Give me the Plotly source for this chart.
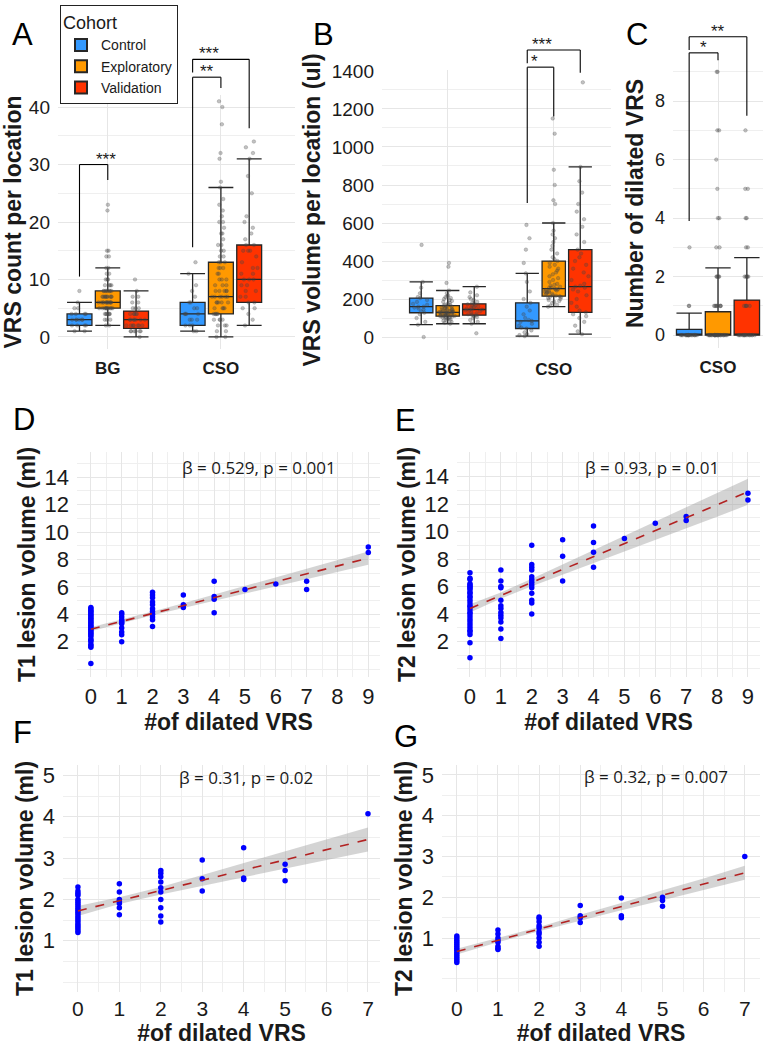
import plotly.graph_objects as go

W, H = 765, 1050

# ---------------- data ----------------
cohorts = ["Control", "Exploratory", "Validation"]
cohort_colors = ["#3399FF", "#FF9900", "#FF3300"]
locations = ["BG", "CSO"]
cso_only = ["CSO"]

# A: VRS count per location  (box statistics, [BG, CSO])
count_q1 = {"Control": [2, 2], "Exploratory": [5, 4], "Validation": [1.5, 6]}
count_median = {"Control": [3, 4], "Exploratory": [6, 7], "Validation": [3, 10]}
count_q3 = {"Control": [4, 6], "Exploratory": [8, 13], "Validation": [4.5, 16]}
count_lower = {"Control": [1, 1], "Exploratory": [2, 0], "Validation": [0, 2]}
count_upper = {"Control": [6, 11], "Exploratory": [12, 26], "Validation": [8, 31]}
count_points_bg = {
    "Control": [1, 1, 2, 2, 2, 2, 3, 3, 3, 3, 3, 3, 4, 4, 4, 4, 5, 5, 6, 8],
    "Exploratory": [2, 2, 3, 3, 3, 4, 4, 4, 4, 4, 4, 4, 5, 5, 5, 5, 5, 5, 5, 5, 5, 5, 5,
                    6, 6, 6, 6, 6, 6, 6, 6, 6, 6, 6, 6, 7, 7, 7, 7, 7, 7, 7, 7, 7, 7,
                    8, 8, 8, 8, 8, 8, 8, 8, 9, 9, 9, 9, 10, 10, 10, 11, 11, 12, 12,
                    14, 14, 15, 15, 22, 23],
    "Validation": [0, 1, 1, 1, 1, 1, 1, 2, 2, 2, 2, 2, 2, 2, 3, 3, 3, 3, 3, 3, 3, 4, 4,
                   4, 4, 4, 5, 5, 5, 6, 6, 7, 7, 8, 10],
}
count_points_cso = {
    "Control": [1, 1, 2, 2, 2, 3, 3, 3, 4, 4, 4, 4, 5, 5, 6, 6, 7, 8, 9, 11, 13],
    "Exploratory": [0, 0, 1, 1, 2, 2, 2, 3, 3, 3, 3, 4, 4, 4, 4, 4, 5, 5, 5, 5, 6, 6, 6,
                    6, 6, 7, 7, 7, 7, 7, 7, 8, 8, 8, 8, 8, 9, 9, 9, 10, 10, 10, 11, 11,
                    12, 12, 12, 13, 13, 13, 14, 14, 15, 15, 16, 16, 17, 18, 18, 19, 20,
                    20, 21, 22, 23, 24, 26, 27, 31, 32, 37, 40, 41],
    "Validation": [2, 3, 4, 5, 5, 6, 6, 7, 7, 8, 8, 9, 9, 10, 10, 10, 11, 11, 12, 12, 13,
                   14, 15, 15, 15, 16, 16, 17, 18, 19, 20, 21, 25, 28, 31, 32, 33, 34],
}
# significance brackets: (location, from, to, bar level, left end, right end, label)
count_sig = [("BG", "Control", "Exploratory", 30, 10.5, 27.3, "***"),
             ("CSO", "Control", "Exploratory", 45.2, 15.6, 43.3, "**"),
             ("CSO", "Control", "Validation", 48.3, 46, 36.3, "***")]

# B: VRS volume per location (ul)
vol_q1 = {"Control": [128, 45], "Exploratory": [110, 215], "Validation": [115, 130]}
vol_median = {"Control": [160, 85], "Exploratory": [130, 255], "Validation": [145, 265]}
vol_q3 = {"Control": [205, 180], "Exploratory": [165, 400], "Validation": [175, 460]}
vol_lower = {"Control": [65, 5], "Exploratory": [70, 160], "Validation": [70, 15]}
vol_upper = {"Control": [290, 335], "Exploratory": [245, 600], "Validation": [265, 895]}
vol_points_bg = {
    "Control": [0, 65, 80, 100, 120, 128, 135, 145, 150, 155, 160, 160, 170, 175, 185,
                195, 205, 210, 230, 260, 290, 485],
    "Exploratory": [70, 75, 80, 85, 90, 92, 95, 98, 100, 102, 105, 106, 108, 110, 110,
                    112, 114, 115, 116, 118, 120, 121, 122, 124, 125, 126, 128, 129, 130,
                    130, 131, 132, 134, 135, 136, 138, 140, 141, 143, 145, 147, 150, 152,
                    155, 158, 160, 162, 165, 168, 170, 175, 180, 185, 190, 195, 200, 205,
                    210, 215, 220, 230, 245, 285, 370, 390],
    "Validation": [20, 70, 80, 90, 100, 105, 110, 115, 118, 120, 125, 130, 135, 140, 142,
                   145, 148, 150, 155, 158, 160, 165, 170, 172, 175, 180, 185, 195, 200,
                   210, 220, 235, 265],
}
vol_points_cso = {
    "Control": [5, 10, 15, 25, 35, 45, 50, 60, 70, 80, 85, 90, 100, 120, 140, 160, 180,
                200, 240, 290, 335, 390, 460, 520, 590],
    "Exploratory": [160, 165, 170, 180, 185, 190, 195, 200, 205, 210, 212, 215, 218, 220,
                    225, 228, 230, 235, 238, 240, 242, 245, 248, 250, 252, 255, 258, 260,
                    265, 270, 275, 280, 290, 300, 310, 320, 330, 340, 350, 360, 370, 380,
                    390, 400, 410, 420, 440, 460, 480, 500, 520, 540, 560, 600, 700, 720,
                    800, 880, 1070, 1150],
    "Validation": [15, 30, 60, 80, 100, 110, 120, 130, 140, 160, 180, 200, 220, 240, 250,
                   260, 265, 270, 280, 300, 320, 340, 360, 380, 400, 420, 440, 460, 500,
                   540, 580, 620, 660, 700, 760, 820, 895, 1340],
}
vol_sig = [("CSO", "Control", "Exploratory", 1420, 705, 1160, "*"),
           ("CSO", "Control", "Validation", 1510, 1440, 1390, "***")]

# C: number of dilated VRS (CSO)
dil_q1 = {"Control": [0], "Exploratory": [0], "Validation": [0]}
dil_median = {"Control": [0], "Exploratory": [0], "Validation": [0]}
dil_q3 = {"Control": [0.2], "Exploratory": [0.8], "Validation": [1.2]}
dil_lower = {"Control": [0], "Exploratory": [0], "Validation": [0]}
dil_upper = {"Control": [0.75], "Exploratory": [2.3], "Validation": [2.65]}
dil_points_cso = {
    "Control": [0, 0, 0, 0, 0, 0, 0, 0, 0, 0, 0, 0, 0, 0, 0, 0, 0, 0, 1, 1, 3],
    "Exploratory": [0, 0, 0, 0, 0, 0, 0, 0, 0, 0, 0, 0, 0, 0, 0, 0, 0, 0, 0, 0, 0, 0,
                    0, 0, 0, 1, 1, 1, 1, 1, 1, 1, 1, 2, 2, 2, 2, 2, 3, 3, 4, 4, 5, 6,
                    7, 7, 9, 9],
    "Validation": [0, 0, 0, 0, 0, 0, 0, 0, 0, 0, 0, 0, 0, 0, 0, 1, 1, 1, 1, 1, 2, 2, 2,
                   2, 2, 3, 3, 4, 4, 5, 5, 7],
}
dil_sig = [("CSO", "Control", "Exploratory", 9.65, 3.9, 9.4, "*"),
           ("CSO", "Control", "Validation", 10.2, 9.75, 7.5, "**")]

# D-G: lesion volume vs number of dilated VRS  {n dilated: [volumes]}
d_points = {0: [0.4, 1.6, 1.7, 1.8, 2.0, 2.1, 2.2, 2.4, 2.5, 2.6, 2.7, 2.8, 2.9, 3.0,
                3.1, 3.2, 3.3, 3.4, 3.5, 3.6, 3.7, 3.8, 3.9, 4.0, 4.1, 4.2, 4.3, 4.4, 4.5],
            1: [2.0, 2.5, 2.7, 3.0, 3.3, 3.4, 3.5, 3.6, 3.8, 4.0, 4.1],
            2: [3.1, 3.6, 3.8, 4.0, 4.2, 4.4, 4.7, 4.9, 5.2, 5.4, 5.6],
            3: [4.5, 4.7, 5.4], 4: [4.1, 5.1, 5.3, 6.4], 5: [5.8], 6: [6.2],
            7: [5.8, 6.4], 9: [8.5, 8.9]}
e_points = {0: [0.8, 1.9, 2.5, 2.7, 2.8, 3.0, 3.2, 3.4, 3.6, 3.8, 4.0, 4.1, 4.3, 4.5,
                4.6, 4.8, 5.0, 5.2, 5.3, 5.5, 5.6, 5.8, 5.9, 6.0, 6.1, 6.2, 6.5, 6.6, 7.0],
            1: [2.2, 2.9, 3.4, 3.7, 3.9, 4.1, 4.4, 4.6, 5.0, 5.9, 6.0, 6.4, 7.2],
            2: [4.0, 4.8, 5.0, 5.5, 5.9, 6.1, 6.3, 6.5, 6.7, 7.2, 7.4, 7.6, 9.0],
            3: [6.4, 8.2, 9.4], 4: [7.4, 8.5, 9.2, 10.4], 5: [9.5], 6: [10.6],
            7: [10.8, 11.1], 9: [12.3, 12.8]}
f_points = {0: [1.2, 1.25, 1.3, 1.35, 1.4, 1.45, 1.5, 1.55, 1.6, 1.65, 1.7, 1.75, 1.8,
                1.85, 1.9, 1.95, 2.0, 2.1, 2.15, 2.2, 2.3],
            1: [1.63, 1.8, 1.9, 1.95, 2.0, 2.18, 2.38],
            2: [1.45, 1.6, 1.8, 2.0, 2.18, 2.28, 2.42, 2.55, 2.63, 2.7],
            3: [2.2, 2.5, 2.95], 4: [2.48, 2.52, 3.25], 5: [2.45, 2.7, 2.85], 7: [4.07]}
g_points = {0: [0.4, 0.45, 0.5, 0.55, 0.6, 0.65, 0.7, 0.75, 0.8, 0.85, 0.9, 0.95, 1.0,
                1.05],
            1: [0.72, 0.75, 0.8, 0.9, 0.95, 1.0, 1.1, 1.2],
            2: [0.8, 0.9, 1.0, 1.1, 1.15, 1.25, 1.3, 1.4, 1.48, 1.52],
            3: [1.38, 1.5, 1.55, 1.8], 4: [1.5, 1.55, 1.98], 5: [1.78, 1.92, 2.0], 7: [3.0]}

# fitted lines and 95% bands
d_fit_x = [0, 9]
d_fit_y = [2.90, 8.10]
d_band_x = [0, 1, 2, 3, 4, 5, 6, 7, 8, 9]
d_band_lo = [2.75, 3.36, 3.92, 4.45, 4.98, 5.51, 6.04, 6.57, 7.09, 7.62]
d_band_hi = [3.05, 3.60, 4.20, 4.81, 5.44, 6.07, 6.70, 7.33, 7.95, 8.58]
e_fit_x = [0, 9]
e_fit_y = [4.40, 12.90]
e_band_x = [0, 1, 2, 3, 4, 5, 6, 7, 8, 9]
e_band_lo = [4.10, 5.12, 6.01, 6.85, 7.68, 8.52, 9.37, 10.21, 11.08, 11.95]
e_band_hi = [4.70, 5.56, 6.57, 7.61, 8.68, 9.72, 10.77, 11.81, 12.84, 13.85]
f_fit_x = [0, 7]
f_fit_y = [1.72, 3.45]
f_band_x = [0, 1, 2, 3, 4, 5, 6, 7]
f_band_lo = [1.60, 1.89, 2.12, 2.33, 2.54, 2.75, 2.95, 3.16]
f_band_hi = [1.84, 2.05, 2.30, 2.59, 2.88, 3.17, 3.45, 3.74]
g_fit_x = [0, 7]
g_fit_y = [0.67, 2.60]
g_band_x = [0, 1, 2, 3, 4, 5, 6, 7]
g_band_lo = [0.60, 0.90, 1.17, 1.43, 1.68, 1.93, 2.18, 2.43]
g_band_hi = [0.74, 1.00, 1.27, 1.57, 1.86, 2.17, 2.46, 2.77]

stat_labels = ["β = 0.529, p = 0.001", "β = 0.93, p = 0.01",
               "β = 0.31, p = 0.02", "β = 0.32, p = 0.007"]

# ---------------- styling / layout ----------------
FONT = "Liberation Sans, Arial, sans-serif"
TXT = "#1a1a1a"
GRID = "#E6E6E6"
MINOR = "#EFEFEF"
BOXGAP = 0.25
BOXGROUPGAP = 0.12
slot = (1 - BOXGAP) / 3

fig = go.Figure()


def xd(p0, p1):
    return [p0 / W, p1 / W]


def yd(top, bottom):
    return [1 - bottom / H, 1 - top / H]


def add_box_panel(k, cats, q1, med, q3, lo, hi, pts_by_cat, legend):
    xa, ya = ("x" + k), ("y" + k)
    for i, c in enumerate(cohorts):
        fig.add_trace(go.Box(
            x=cats, q1=q1[c], median=med[c], q3=q3[c], lowerfence=lo[c], upperfence=hi[c],
            orientation="v", name=c, legendgroup=c, showlegend=legend,
            offsetgroup=c, alignmentgroup="g" + k, boxpoints=False, whiskerwidth=1,
            fillcolor=cohort_colors[i], line=dict(color="#262626", width=1.3),
            xaxis=xa, yaxis=ya, hoverinfo="skip"))
        xs, ys = [], []
        for cat, pts in zip(cats, pts_by_cat):
            xs += [cat] * len(pts[c])
            ys += pts[c]
        fig.add_trace(go.Box(
            x=xs, y=ys, orientation="v", name=c, showlegend=False,
            offsetgroup=c, alignmentgroup="g" + k, boxpoints="all", jitter=0.8,
            pointpos=0, fillcolor="rgba(0,0,0,0)",
            line=dict(color="rgba(0,0,0,0)", width=0),
            marker=dict(color="rgba(70,70,70,0.33)", size=3.6,
                        line=dict(color="rgba(70,70,70,0.45)", width=0.5)),
            xaxis=xa, yaxis=ya, hoverinfo="skip"))


def add_sig(k, cats, xr, yr, sig):
    xref, yref = "x" + k + " domain", "y" + k + " domain"
    fx = lambda v: (v - xr[0]) / (xr[1] - xr[0])
    fy = lambda v: (v - yr[0]) / (yr[1] - yr[0])
    for cat, g1, g2, ybar, yl, yrt, label in sig:
        ci = cats.index(cat)
        a = fx(ci + (cohorts.index(g1) - 1) * slot)
        b = fx(ci + (cohorts.index(g2) - 1) * slot)
        ln = dict(color="black", width=1.1)
        fig.add_shape(type="line", xref=xref, yref=yref, x0=a, x1=a, y0=fy(yl), y1=fy(ybar), line=ln)
        fig.add_shape(type="line", xref=xref, yref=yref, x0=a, x1=b, y0=fy(ybar), y1=fy(ybar), line=ln)
        fig.add_shape(type="line", xref=xref, yref=yref, x0=b, x1=b, y0=fy(ybar), y1=fy(yrt), line=ln)
        fig.add_annotation(xref=xref, yref=yref, x=(a + b) / 2, y=fy(ybar), text=label,
                           showarrow=False, yanchor="bottom", yshift=-6,
                           font=dict(family=FONT, size=17, color=TXT))


def add_scatter_panel(k, pts, fx_, fy_, bx, blo, bhi):
    xa, ya = ("x" + k), ("y" + k)
    fig.add_trace(go.Scatter(x=bx, y=blo, mode="lines", line=dict(width=0),
                             showlegend=False, xaxis=xa, yaxis=ya, hoverinfo="skip"))
    fig.add_trace(go.Scatter(x=bx, y=bhi, mode="lines", line=dict(width=0), fill="tonexty",
                             fillcolor="rgba(160,160,160,0.45)", showlegend=False,
                             xaxis=xa, yaxis=ya, hoverinfo="skip"))
    xs, ys = [], []
    for n, vals in pts.items():
        xs += [n] * len(vals)
        ys += vals
    fig.add_trace(go.Scatter(x=xs, y=ys, mode="markers",
                             marker=dict(color="#0000FF", size=5.5), showlegend=False,
                             xaxis=xa, yaxis=ya, hoverinfo="skip"))
    fig.add_trace(go.Scatter(x=fx_, y=fy_, mode="lines",
                             line=dict(color="#B22222", width=1.6, dash="dash"),
                             showlegend=False, xaxis=xa, yaxis=ya, hoverinfo="skip"))


# panel ranges
rA_x, rA_y = [-0.44, 1.655], [-2.1, 42.1]
rB_x, rB_y = [-0.62, 1.54], [-68, 1405]
rC_x, rC_y = [-0.39, 0.39], [-0.44, 9.44]

add_box_panel("", locations, count_q1, count_median, count_q3, count_lower, count_upper,
              [count_points_bg, count_points_cso], True)
add_box_panel("2", locations, vol_q1, vol_median, vol_q3, vol_lower, vol_upper,
              [vol_points_bg, vol_points_cso], False)
add_box_panel("3", cso_only, dil_q1, dil_median, dil_q3, dil_lower, dil_upper,
              [dil_points_cso], False)

add_sig("", locations, rA_x, rA_y, count_sig)
add_sig("2", locations, rB_x, rB_y, vol_sig)
add_sig("3", cso_only, rC_x, rC_y, dil_sig)

add_scatter_panel("4", d_points, d_fit_x, d_fit_y, d_band_x, d_band_lo, d_band_hi)
add_scatter_panel("5", e_points, e_fit_x, e_fit_y, e_band_x, e_band_lo, e_band_hi)
add_scatter_panel("6", f_points, f_fit_x, f_fit_y, f_band_x, f_band_lo, f_band_hi)
add_scatter_panel("7", g_points, g_fit_x, g_fit_y, g_band_x, g_band_lo, g_band_hi)


def cat_xaxis(dom, rng, anchor):
    return dict(domain=dom, range=rng, type="category", anchor=anchor,
                showgrid=True, gridcolor=GRID, gridwidth=1, zeroline=False, showline=False,
                ticks="", ticklabelstandoff=7, automargin=False,
                tickfont=dict(family=FONT, size=17, color=TXT, weight="bold"))


def num_yaxis(dom, rng, anchor, title, tickvals, minor_dtick, size=19, standoff=4):
    return dict(domain=dom, range=rng, anchor=anchor, tickmode="array", tickvals=tickvals,
                showgrid=True, gridcolor=GRID, gridwidth=1, zeroline=False, showline=False,
                ticks="", ticklabelstandoff=7, automargin=False,
                minor=dict(tickmode="linear", tick0=0, dtick=minor_dtick, showgrid=True,
                           gridcolor=MINOR, gridwidth=0.8),
                tickfont=dict(family=FONT, size=size, color=TXT),
                title=dict(text=title, standoff=standoff,
                           font=dict(family=FONT, size=23, color=TXT, weight="bold")))


def scat_xaxis(dom, rng, anchor, tickvals, lab_off=4, tick_size=22, title_size=23):
    return dict(domain=dom, range=rng, anchor=anchor, tickmode="array", tickvals=tickvals,
                showgrid=True, gridcolor=GRID, gridwidth=1, zeroline=False, showline=False,
                ticks="", ticklabelstandoff=lab_off, automargin=False,
                minor=dict(tickmode="linear", tick0=0, dtick=0.5, showgrid=True,
                           gridcolor=MINOR, gridwidth=0.8),
                tickfont=dict(family=FONT, size=tick_size, color=TXT),
                title=dict(text="#of dilated VRS", standoff=0,
                           font=dict(family=FONT, size=title_size, color=TXT, weight="bold")))


domA = (xd(58, 295), yd(95, 349))
domB = (xd(382, 611), yd(70, 350))
domC = (xd(673, 763), yd(59, 348))
domD = (xd(77, 380), yd(452, 677))
domE = (xd(457, 760), yd(452, 677))
domF = (xd(63, 380), yd(765, 992))
domG = (xd(442, 760), yd(765, 992))

ticks_09 = [0, 1, 2, 3, 4, 5, 6, 7, 8, 9]
ticks_07 = [0, 1, 2, 3, 4, 5, 6, 7]

fig.update_layout(
    width=W, height=H, autosize=False,
    margin=dict(l=0, r=0, t=0, b=0),
    paper_bgcolor="white", plot_bgcolor="white",
    boxmode="group", boxgap=BOXGAP, boxgroupgap=BOXGROUPGAP,
    font=dict(family=FONT, color=TXT),
    xaxis=cat_xaxis(domA[0], rA_x, "y"),
    yaxis=num_yaxis(domA[1], rA_y, "x", "VRS count per location", [0, 10, 20, 30, 40], 5),
    xaxis2=cat_xaxis(domB[0], rB_x, "y2"),
    yaxis2=num_yaxis(domB[1], rB_y, "x2", "VRS volume per location (ul)",
                     [0, 200, 400, 600, 800, 1000, 1200, 1400], 100),
    xaxis3=cat_xaxis(domC[0], rC_x, "y3"),
    yaxis3=num_yaxis(domC[1], rC_y, "x3", "Number of dilated VRS", [0, 2, 4, 6, 8], 1, size=18),
    xaxis4=scat_xaxis(domD[0], [-0.45, 9.38], "y4", ticks_09),
    yaxis4=num_yaxis(domD[1], [-0.58, 15.84], "x4", "T1 lesion volume (ml)",
                     [2, 4, 6, 8, 10, 12, 14], 1, size=22, standoff=2),
    xaxis5=scat_xaxis(domE[0], [-0.42, 9.39], "y5", ticks_09),
    yaxis5=num_yaxis(domE[1], [-0.6, 15.8], "x5", "T2 lesion volume (ml)",
                     [2, 4, 6, 8, 10, 12, 14], 1, size=22, standoff=2),
    xaxis6=scat_xaxis(domF[0], [-0.36, 7.29], "y6", ticks_07, lab_off=2, tick_size=21,
                      title_size=23),
    yaxis6=num_yaxis(domF[1], [-0.24, 5.25], "x6", "T1 lesion volume (ml)",
                     [1, 2, 3, 4, 5], 0.5, size=22, standoff=2),
    xaxis7=scat_xaxis(domG[0], [-0.36, 7.37], "y7", ticks_07, lab_off=2, tick_size=21,
                      title_size=23),
    yaxis7=num_yaxis(domG[1], [-0.32, 5.24], "x7", "T2 lesion volume (ml)",
                     [1, 2, 3, 4, 5], 0.5, size=22, standoff=2),
    legend=dict(x=60 / W, y=1 - 5 / H, xanchor="left", yanchor="top",
                bgcolor="white", bordercolor="#222", borderwidth=1,
                font=dict(family=FONT, size=14, color=TXT),
                title=dict(text="Cohort", font=dict(family=FONT, size=18, color=TXT)),
                itemsizing="constant", tracegroupgap=0),
)

# panel letters
for letter, px_, py_ in [("A", 22, 34), ("B", 323, 34), ("C", 637, 35), ("D", 24, 419),
                         ("E", 405, 420), ("F", 22, 732), ("G", 406, 736)]:
    fig.add_annotation(xref="paper", yref="paper", x=px_ / W, y=1 - py_ / H, text=letter,
                       showarrow=False, xanchor="center", yanchor="middle",
                       font=dict(family=FONT, size=31, color="black"))

# regression statistics
for k, lab, xpos, ypos in [("4", stat_labels[0], 5.45, 14.7), ("5", stat_labels[1], 5.9, 14.7),
                           ("6", stat_labels[2], 4.05, 4.95), ("7", stat_labels[3], 4.85, 4.95)]:
    fig.add_annotation(xref="x" + k, yref="y" + k, x=xpos, y=ypos, text=lab, showarrow=False,
                       font=dict(family="Open Sans, sans-serif", size=17, color=TXT))

fig.write_html("out.html", include_plotlyjs=True, config={"displayModeBar": False},
               post_script="document.body.style.margin='0';document.body.style.padding='0';")
